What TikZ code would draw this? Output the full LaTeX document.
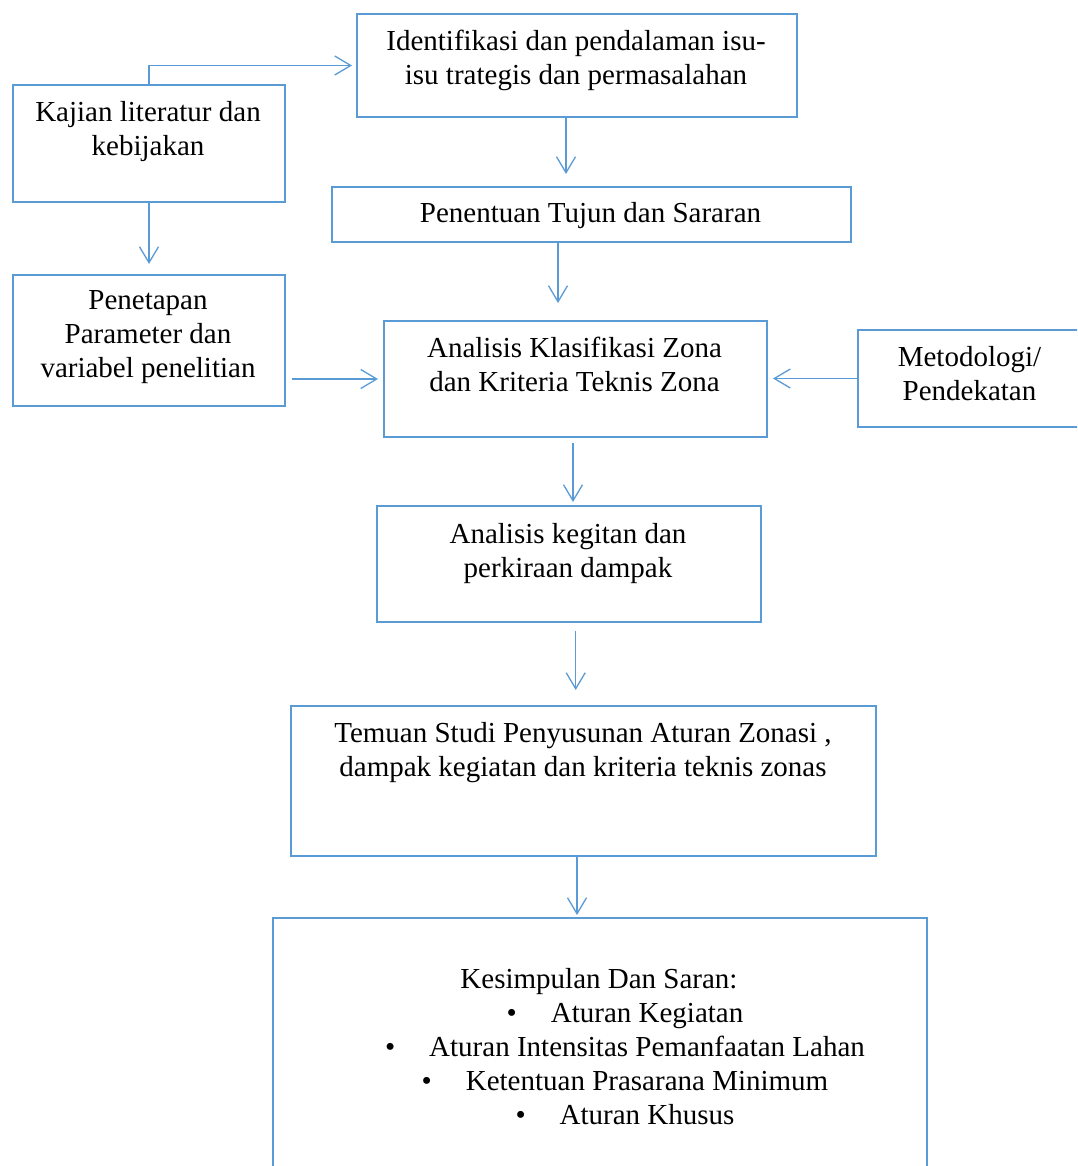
\documentclass[tikz,border=0pt]{standalone}
\usepackage{fontspec}
\setmainfont{Liberation Serif}
\usetikzlibrary{arrows.meta}
\definecolor{wordblue}{HTML}{5B9BD5}
\begin{document}
\begin{tikzpicture}[x=1pt,y=-1pt,
  box/.style={draw=wordblue, line width=2pt, rectangle, inner sep=0pt, anchor=north west},
  % base anchor of a multi-line text sits on its last line
  txt/.style={anchor=base, align=center, inner sep=0pt, font=\fontsize{29}{34}\selectfont},
  link/.style={draw=wordblue, line width=1.3pt, -{Straight Barb[length=16pt,width=19pt]}}
]
\clip (0,0) rectangle (1077,1166);
\fill[white] (0,0) rectangle (1077,1166);

% boxes
\node[box, minimum width=440pt, minimum height=103pt] (ident) at (356,13) {};
\node[box, minimum width=272pt, minimum height=117pt] (kajian) at (12,84) {};
\node[box, minimum width=519pt, minimum height=55pt]  (tujuan) at (331,186) {};
\node[box, minimum width=272pt, minimum height=131pt] (param) at (12,274) {};
\node[box, minimum width=383pt, minimum height=116pt] (zona) at (383,320) {};
\node[box, minimum width=225pt, minimum height=97pt]  (metode) at (857,329) {};
\node[box, minimum width=384pt, minimum height=116pt] (dampak) at (376,505) {};
\node[box, minimum width=585pt, minimum height=150pt] (temuan) at (290,705) {};
\node[box, minimum width=654pt, minimum height=300pt] (simpulan) at (272,917) {};

% texts
\node[txt] (ident-t) at (576,85) {Identifikasi dan pendalaman isu-\\isu trategis dan permasalahan};
\node[txt] (kajian-t) at (148,156) {Kajian literatur dan\\kebijakan};
\node[txt] (tujuan-t) at (590.5,223) {Penentuan Tujun dan Sararan};
\node[txt] (param-t) at (148,377) {Penetapan\\Parameter dan\\variabel penelitian};
\node[txt] (zona-t) at (574.5,391) {Analisis Klasifikasi Zona\\dan Kriteria Teknis Zona};
\node[txt] (metode-t) at (969.5,400) {Metodologi/\\Pendekatan};
\node[txt] (dampak-t) at (568,577) {Analisis kegitan dan\\perkiraan dampak};
\node[txt] (temuan-t) at (583,776) {Temuan Studi Penyusunan Aturan Zonasi ,\\dampak kegiatan dan kriteria teknis zonas};
\node[txt] (simpulan-t) at (599,1124) {Kesimpulan Dan Saran:\\
  \hspace*{52pt}\textbullet\hspace{34pt}Aturan Kegiatan\\
  \hspace*{52pt}\textbullet\hspace{34pt}Aturan Intensitas Pemanfaatan Lahan\\
  \hspace*{52pt}\textbullet\hspace{34pt}Ketentuan Prasarana Minimum\\
  \hspace*{52pt}\textbullet\hspace{34pt}Aturan Khusus};

% connectors
\draw[link, line cap=rect, shorten >=4pt] (kajian.north) |- (ident.west);
\draw[link, shorten >=12pt] ([xshift=-11pt]ident.south) -- ([xshift=-11pt]ident.south |- tujuan.north);
\draw[link, shorten >=10pt] (kajian.south) -- (kajian.south |- param.north);
\draw[link, shorten >=17pt] ([xshift=-33.5pt]tujuan.south) -- ([xshift=-33.5pt]tujuan.south |- zona.north);
\draw[link, shorten <=6pt, shorten >=5pt] (param.east |- zona.west) -- (zona.west);
\draw[link, shorten >=5pt] (metode.west) -- (metode.west -| zona.east);
\draw[link, shorten <=5pt, shorten >=3pt] ([xshift=-2.5pt]zona.south) -- ([xshift=-2.5pt]zona.south |- dampak.north);
\draw[link, shorten <=8pt, shorten >=15pt] ([xshift=6.7pt]dampak.south) -- ([xshift=6.7pt]dampak.south |- temuan.north);
\draw[link, shorten >=2pt] ([xshift=-6.5pt]temuan.south) -- ([xshift=-6.5pt]temuan.south |- simpulan.north);
\end{tikzpicture}
\end{document}
